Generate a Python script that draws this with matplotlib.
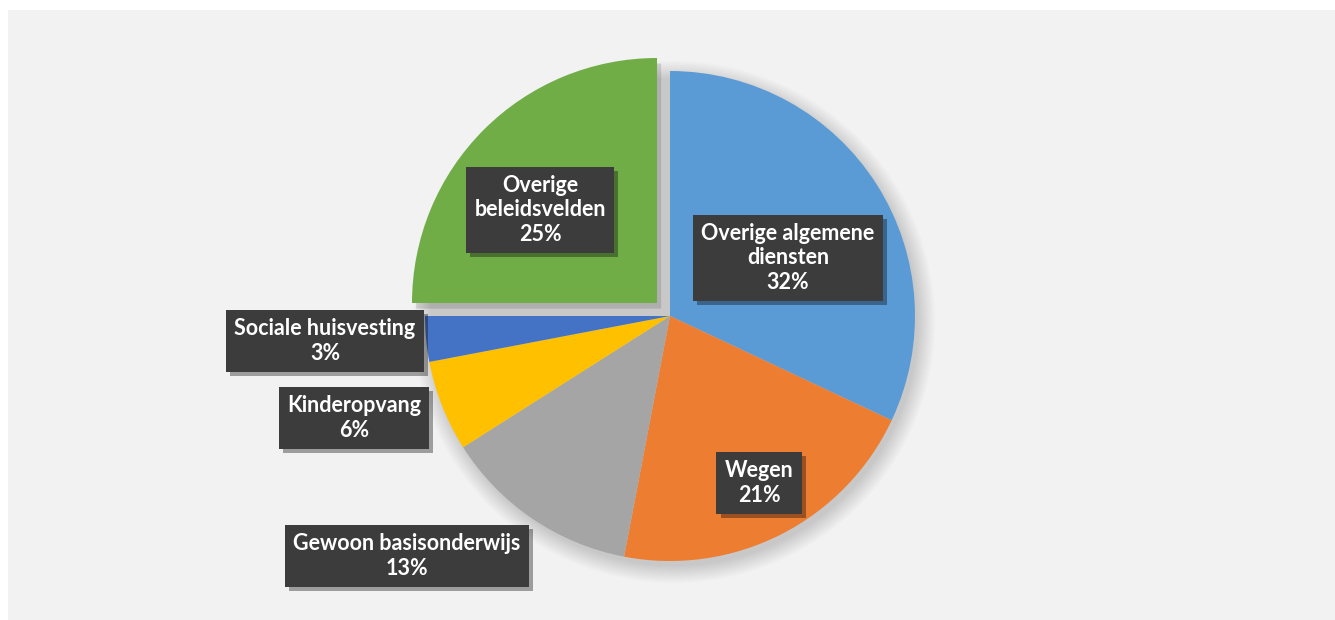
import matplotlib
matplotlib.use("Agg")
import matplotlib.pyplot as plt
from matplotlib.patches import Rectangle, Circle
import matplotlib.patheffects as pe

categories = ["Overige algemene\ndiensten", "Wegen", "Gewoon basisonderwijs",
              "Kinderopvang", "Sociale huisvesting", "Overige\nbeleidsvelden"]
values = [32, 21, 13, 6, 3, 25]
colors = ["#5B9BD5", "#ED7D31", "#A5A5A5", "#FFC000", "#4472C4", "#70AD47"]
explode_frac = [0, 0, 0, 0, 0, 0.075]

W, H = 1335, 620
fig = plt.figure(figsize=(W / 100, H / 100), dpi=100)
fig.patch.set_facecolor("white")
ax = fig.add_axes([0, 0, 1, 1])
ax.set_xlim(0, W)
ax.set_ylim(0, H)
ax.set_aspect("equal")
ax.axis("off")

# panel background
ax.add_patch(Rectangle((8, 0), W - 8, H - 10, facecolor="#F2F2F2", edgecolor="none", zorder=0))

cx, cy, R = 670, H - 316, 245

# soft shadow
for i in range(14):
    ax.add_patch(Circle((cx + 4, cy - 6), R + 16 - i * 1.3, facecolor="black",
                        alpha=0.012, edgecolor="none", zorder=1))

wedges, _ = ax.pie(values, colors=colors, startangle=90, counterclock=False,
                   explode=[e * R for e in explode_frac], radius=R, center=(cx, cy),
                   wedgeprops=dict(linewidth=0, edgecolor="none"))
for w in wedges:
    w.set_zorder(2)
# shadow for the exploded slice
wedges[-1].set_path_effects([pe.SimplePatchShadow(offset=(3, -4), shadow_rgbFace="black", alpha=0.12),
                             pe.Normal()])
ax.set_xlim(0, W)
ax.set_ylim(0, H)

# label positions (pixel centres)
label_pos = [(788, 258), (759, 483), (407, 556), (354, 418), (325, 341), (540, 210)]
for cat, v, (x, y) in zip(categories, values, label_pos):
    t = ax.text(x, H - y, f"{cat}\n{v}%", ha="center", va="center",
                color="white", fontsize=15.5, fontweight="bold", family="Lato",
                linespacing=1.2, zorder=5,
                bbox=dict(boxstyle="square,pad=0.38", facecolor="#3C3C3C",
                          edgecolor="none"))
    t.get_bbox_patch().set_path_effects([
        pe.SimplePatchShadow(offset=(3, -3), shadow_rgbFace="black", alpha=0.35),
        pe.Normal()])

fig.savefig("out.png", dpi=100, facecolor=fig.get_facecolor())
